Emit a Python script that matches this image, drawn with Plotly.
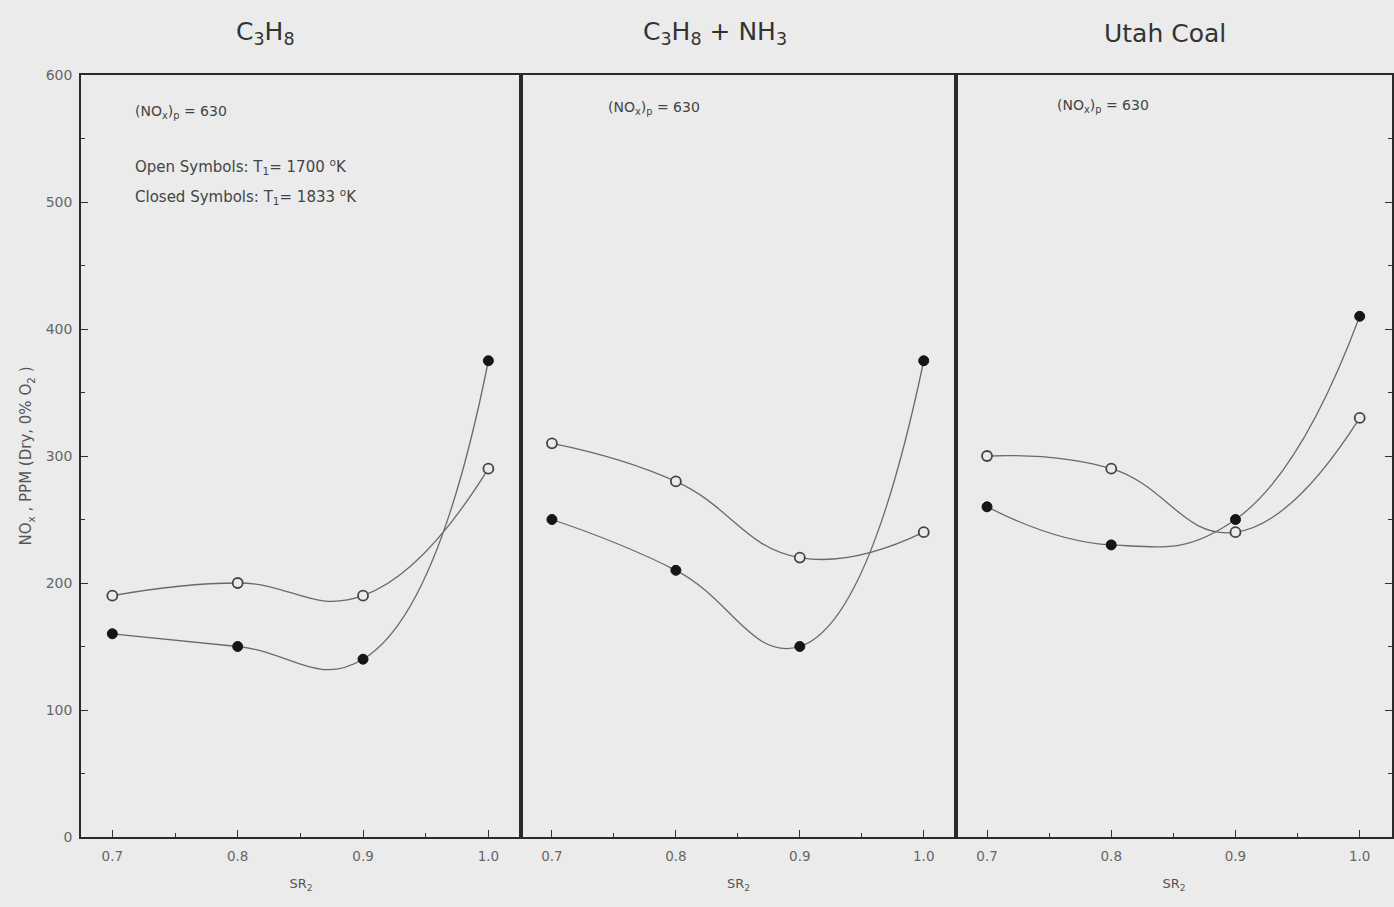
import plotly.graph_objects as go
from plotly.subplots import make_subplots

sr2 = [0.7, 0.8, 0.9, 1.0]

panel_titles = ["C<sub>3</sub>H<sub>8</sub>", "C<sub>3</sub>H<sub>8</sub> + NH<sub>3</sub>", "Utah Coal"]

# Open symbols: T1 = 1700 K ; Closed symbols: T1 = 1833 K
open_c3h8 = [190, 200, 190, 290]
closed_c3h8 = [160, 150, 140, 375]
open_nh3 = [310, 280, 220, 240]
closed_nh3 = [250, 210, 150, 375]
open_coal = [300, 290, 240, 330]
closed_coal = [260, 230, 250, 410]

open_series = [open_c3h8, open_nh3, open_coal]
closed_series = [closed_c3h8, closed_nh3, closed_coal]

y_ticks = [0, 100, 200, 300, 400, 500, 600]
x_ticks = [0.7, 0.8, 0.9, 1.0]
x_ticklabels = ["0.7", "0.8", "0.9", "1.0"]

BG = "#ebebeb"
FONT = "DejaVu Sans, Verdana, sans-serif"
LINE = "#6a6a6a"

fig = make_subplots(rows=1, cols=3, shared_yaxes=True, horizontal_spacing=0)

for i in range(3):
    col = i + 1
    fig.add_trace(go.Scatter(
        x=sr2, y=open_series[i], mode="lines+markers",
        line=dict(color=LINE, width=1.3, shape="spline", smoothing=1.3),
        marker=dict(symbol="circle", size=10, color=BG,
                    line=dict(color="#444", width=1.8)),
        showlegend=False), row=1, col=col)
    fig.add_trace(go.Scatter(
        x=sr2, y=closed_series[i], mode="lines+markers",
        line=dict(color=LINE, width=1.3, shape="spline", smoothing=1.3),
        marker=dict(symbol="circle", size=10, color="#151515",
                    line=dict(color="#151515", width=1)),
        showlegend=False), row=1, col=col)

doms = [[0, 0.3356], [0.3356, 0.6674], [0.6674, 1.0]]
for i in range(3):
    xa = "xaxis" if i == 0 else f"xaxis{i+1}"
    fig.layout[xa].update(
        domain=doms[i], range=[0.675, 1.026],
        tickvals=x_ticks, ticktext=x_ticklabels,
        ticks="inside", ticklen=7, tickwidth=1.2, tickcolor="#333",
        minor=dict(dtick=0.05, tick0=0.7, ticks="inside", ticklen=4, tickcolor="#333"),
        showgrid=False, zeroline=False,
        showline=True, mirror=True, linewidth=1.6, linecolor="#2a2a2a",
        tickfont=dict(family=FONT, size=13.5, color="#666"),
        ticklabelstandoff=6,
        title=dict(text="SR<sub>2</sub>", font=dict(family=FONT, size=13, color="#555"),
                   standoff=16),
    )
    ya = "yaxis" if i == 0 else f"yaxis{i+1}"
    fig.layout[ya].update(
        range=[0, 600], tickvals=y_ticks,
        showgrid=False, zeroline=False,
        showline=True, mirror=True, linewidth=1.6, linecolor="#2a2a2a",
    )

fig.layout.yaxis.update(
    ticks="inside", ticklen=7, tickwidth=1.2, tickcolor="#333",
    minor=dict(dtick=50, ticks="inside", ticklen=4, tickcolor="#333"),
    tickfont=dict(family=FONT, size=14, color="#666"),
    ticklabelstandoff=4,
    title=dict(text="NO<sub>x</sub> , PPM (Dry, 0% O<sub>2</sub> )",
               font=dict(family=FONT, size=15, color="#555"), standoff=10),
)
fig.layout.yaxis3.update(side="right", showticklabels=False, ticks="inside",
                         ticklen=7, tickcolor="#333",
                         minor=dict(dtick=50, ticks="inside", ticklen=4, tickcolor="#333"))

title_x = [265, 715, 1165]
for t, px in zip(panel_titles, title_x):
    fig.add_annotation(text=t, xref="paper", yref="paper",
                       x=(px - 81) / 1311, y=1 + (75 - 33) / 762,
                       showarrow=False, xanchor="center", yanchor="middle",
                       font=dict(family=FONT, size=25, color="#333"))

ann = [
    ("(NO<sub>x</sub>)<sub>p</sub> = 630", 133, 112, 14),
    ("Open Symbols: T<sub>1</sub>= 1700 <sup>o</sup>K", 133, 166, 15),
    ("Closed Symbols: T<sub>1</sub>= 1833 <sup>o</sup>K", 133, 196, 15),
    ("(NO<sub>x</sub>)<sub>p</sub> = 630", 606, 108, 14),
    ("(NO<sub>x</sub>)<sub>p</sub> = 630", 1055, 106, 14),
]
for t, px, py, fs in ann:
    fig.add_annotation(text=t, xref="paper", yref="paper",
                       x=(px - 81) / 1311, y=(837 - py) / 762,
                       showarrow=False, xanchor="left", yanchor="middle",
                       font=dict(family=FONT, size=fs, color="#444"))

fig.update_layout(
    width=1394, height=907,
    margin=dict(l=81, r=2, t=75, b=70),
    paper_bgcolor=BG, plot_bgcolor=BG,
    font=dict(family=FONT),
)

fig.write_html("out.html")
